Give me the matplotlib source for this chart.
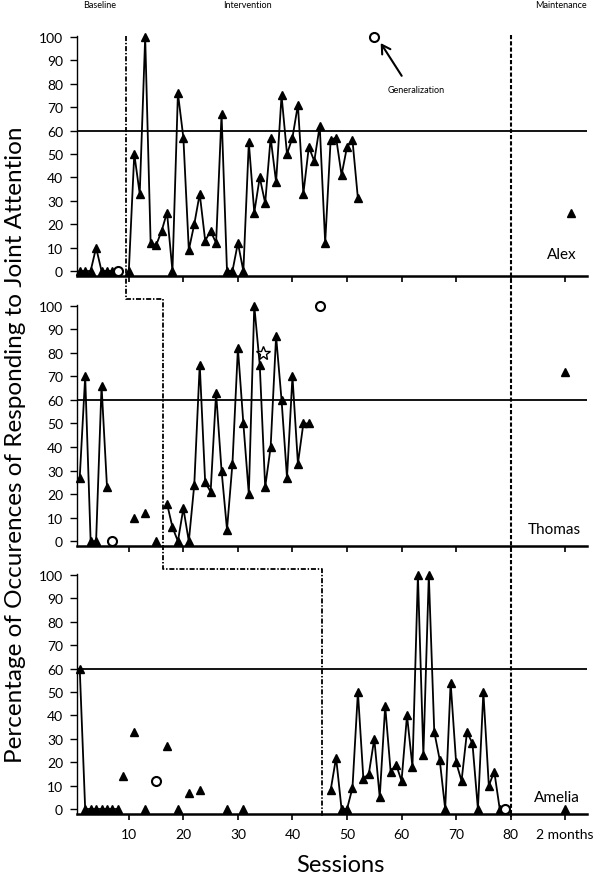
import matplotlib
matplotlib.use('Agg')
import matplotlib.pyplot as plt
from matplotlib.transforms import blended_transform_factory
from matplotlib.lines import Line2D

plt.rcParams['font.family'] = ['Lato', 'DejaVu Sans']

# ---------------- data ----------------
# Alex
alex_base_x = [1, 2, 3, 4, 5, 6, 7]
alex_base_y = [0, 0, 0, 10, 0, 0, 0]
alex_int_x = list(range(10, 53))
alex_int_y = [0, 50, 33, 100, 12, 11, 17, 25, 0, 76, 57, 9, 20, 33, 13, 17, 12, 67,
              0, 0, 12, 0, 55, 25, 40, 29, 57, 38, 75, 50, 57, 71, 33, 53, 47, 62,
              12, 56, 57, 41, 53, 56, 31]
alex_circle_x = [8, 55]
alex_circle_y = [0, 100]
alex_maint_x = [91]
alex_maint_y = [25]

# Thomas
thomas_base_x = [1, 2, 3, 4, 5, 6]
thomas_base_y = [27, 70, 0, 0, 66, 23]
thomas_iso_x = [11, 13, 15]
thomas_iso_y = [10, 12, 0]
thomas_int_x = list(range(17, 44))
thomas_int_y = [16, 6, 0, 14, 0, 24, 75, 25, 21, 63, 30, 5, 33, 82, 50, 20, 100, 75,
                23, 40, 87, 60, 27, 70, 33, 50, 50]
thomas_circle_x = [7, 45]
thomas_circle_y = [0, 100]
thomas_star_x = [34.6]
thomas_star_y = [80]
thomas_maint_x = [90]
thomas_maint_y = [72]

# Amelia
amelia_base_x = [1, 2, 3, 4, 5, 6, 7, 8]
amelia_base_y = [60, 0, 0, 0, 0, 0, 0, 0]
amelia_iso_x = [9, 11, 13, 17, 19, 21, 23, 28, 31]
amelia_iso_y = [14, 33, 0, 27, 0, 7, 8, 0, 0]
amelia_int_x = list(range(47, 79))
amelia_int_y = [8, 22, 0, 0, 9, 50, 13, 15, 30, 5, 44, 16, 19, 12, 40, 18, 100, 23,
                100, 33, 21, 0, 54, 20, 12, 33, 28, 0, 50, 10, 16, 0]
amelia_circle_x = [15, 79]
amelia_circle_y = [12, 0]
amelia_maint_x = [90]
amelia_maint_y = [0]

criterion = 60
phase_changes = [9.5, 16.3, 45.5]
maintenance_start = 80
xtick_pos = [10, 20, 30, 40, 50, 60, 70, 80, 90]
xtick_labels = ['10', '20', '30', '40', '50', '60', '70', '80', '2 months']
names = ['Alex', 'Thomas', 'Amelia']

# ---------------- figure ----------------
W, H = 605, 879
fig = plt.figure(figsize=(W / 100, H / 100), dpi=100)


def px_axes(left, top, right, bottom):
    return fig.add_axes([left / W, 1 - bottom / H, (right - left) / W, (bottom - top) / H])


ax_top = px_axes(77, 36.8, 587, 276.7)
ax_mid = px_axes(77, 305.5, 587, 547.0)
ax_bot = px_axes(77, 574.8, 587, 814.7)
axes = [ax_top, ax_mid, ax_bot]

tri = dict(marker='^', ms=5.5, mfc='black', mec='black', color='black', clip_on=False)
circ = dict(marker='o', ms=6.5, mfc='white', mec='black', mew=1.5, ls='none', clip_on=False)

for ax in axes:
    ax.set_xlim(0.5, 94)
    ax.set_ylim(-2, 100.5)
    ax.axhline(criterion, color='black', lw=1.3, zorder=1)
    for s in ['top', 'right']:
        ax.spines[s].set_visible(False)
    ax.spines['bottom'].set_linewidth(1.8)
    ax.spines['left'].set_linewidth(1.0)
    ax.set_yticks(range(0, 101, 10))
    ax.set_xticks(xtick_pos)
    ax.tick_params(axis='y', direction='out', length=5, width=1, pad=5.0, labelsize=10)
    ax.tick_params(axis='x', direction='out', length=4, width=1.2, pad=6, labelsize=10)
    ax.set_xticklabels([])

ax_bot.set_xticklabels(xtick_labels)

# Alex
ax_top.plot(alex_base_x, alex_base_y, lw=1.3, **tri)
ax_top.plot(alex_int_x, alex_int_y, lw=1.3, **tri)
ax_top.plot(alex_maint_x, alex_maint_y, ls='none', **tri)
ax_top.plot(alex_circle_x, alex_circle_y, **circ)

# Thomas
ax_mid.plot(thomas_base_x, thomas_base_y, lw=1.3, **tri)
ax_mid.plot(thomas_iso_x, thomas_iso_y, ls='none', **tri)
ax_mid.plot(thomas_int_x, thomas_int_y, lw=1.3, **tri)
ax_mid.plot(thomas_maint_x, thomas_maint_y, ls='none', **tri)
ax_mid.plot(thomas_circle_x, thomas_circle_y, **circ)
ax_mid.plot(thomas_star_x, thomas_star_y, marker='*', ms=10, mfc='white', mec='black',
            mew=1.0, ls='none', zorder=5)

# Amelia
ax_bot.plot(amelia_base_x, amelia_base_y, lw=1.3, **tri)
ax_bot.plot(amelia_iso_x, amelia_iso_y, ls='none', **tri)
ax_bot.plot(amelia_int_x, amelia_int_y, lw=1.3, **tri)
ax_bot.plot(amelia_maint_x, amelia_maint_y, ls='none', **tri)
ax_bot.plot(amelia_circle_x, amelia_circle_y, **circ)

# participant names
for ax, nm, xpx, ypx in zip(axes, names, [562, 554, 557], [255, 530, 798]):
    fig.text(xpx / W, 1 - ypx / H, nm, ha='center', va='center', fontsize=11)

# generalization annotation
ax_top.annotate('', xy=(55.9, 98.4), xytext=(60.3, 82.4),
                arrowprops=dict(arrowstyle='->,head_length=0.6,head_width=0.35',
                                color='black', lw=1.5))
ax_top.text(62.6, 77.7, 'Generalization', ha='center', va='center', fontsize=6.5)

# phase change lines (span panels)
trans = blended_transform_factory(ax_bot.transData, fig.transFigure)
p1, p2, p3 = phase_changes
xs = [p1, p1, p2, p2, p3, p3]
ys_px = [37, 300, 300, 570, 570, 818]
ys = [1 - v / H for v in ys_px]
fig.add_artist(Line2D(xs, ys, transform=trans, color='black', lw=1.3,
                      ls=(0, (2.8, 1.0, 0.8, 1.0)), clip_on=False))
fig.add_artist(Line2D([maintenance_start, maintenance_start], [1 - 36 / H, 1 - 818 / H],
                      transform=trans, color='black', lw=1.5, ls=(0, (2, 1)),
                      clip_on=False))

# phase labels
fig.text(99.5 / W, 1 - 5 / H, 'Baseline', ha='center', va='center', fontsize=6.5)
fig.text(247.5 / W, 1 - 5 / H, 'Intervention', ha='center', va='center', fontsize=6.5)
fig.text(561 / W, 1 - 5 / H, 'Maintenance', ha='center', va='center', fontsize=6.5)

# axis titles
fig.text(16 / W, 1 - 445 / H, 'Percentage of Occurences of Responding to Joint Attention',
         rotation=90, ha='center', va='center', fontsize=17.5)
fig.text(340 / W, 1 - 866 / H, 'Sessions', ha='center', va='center', fontsize=17)

fig.savefig('out.png', dpi=100)
